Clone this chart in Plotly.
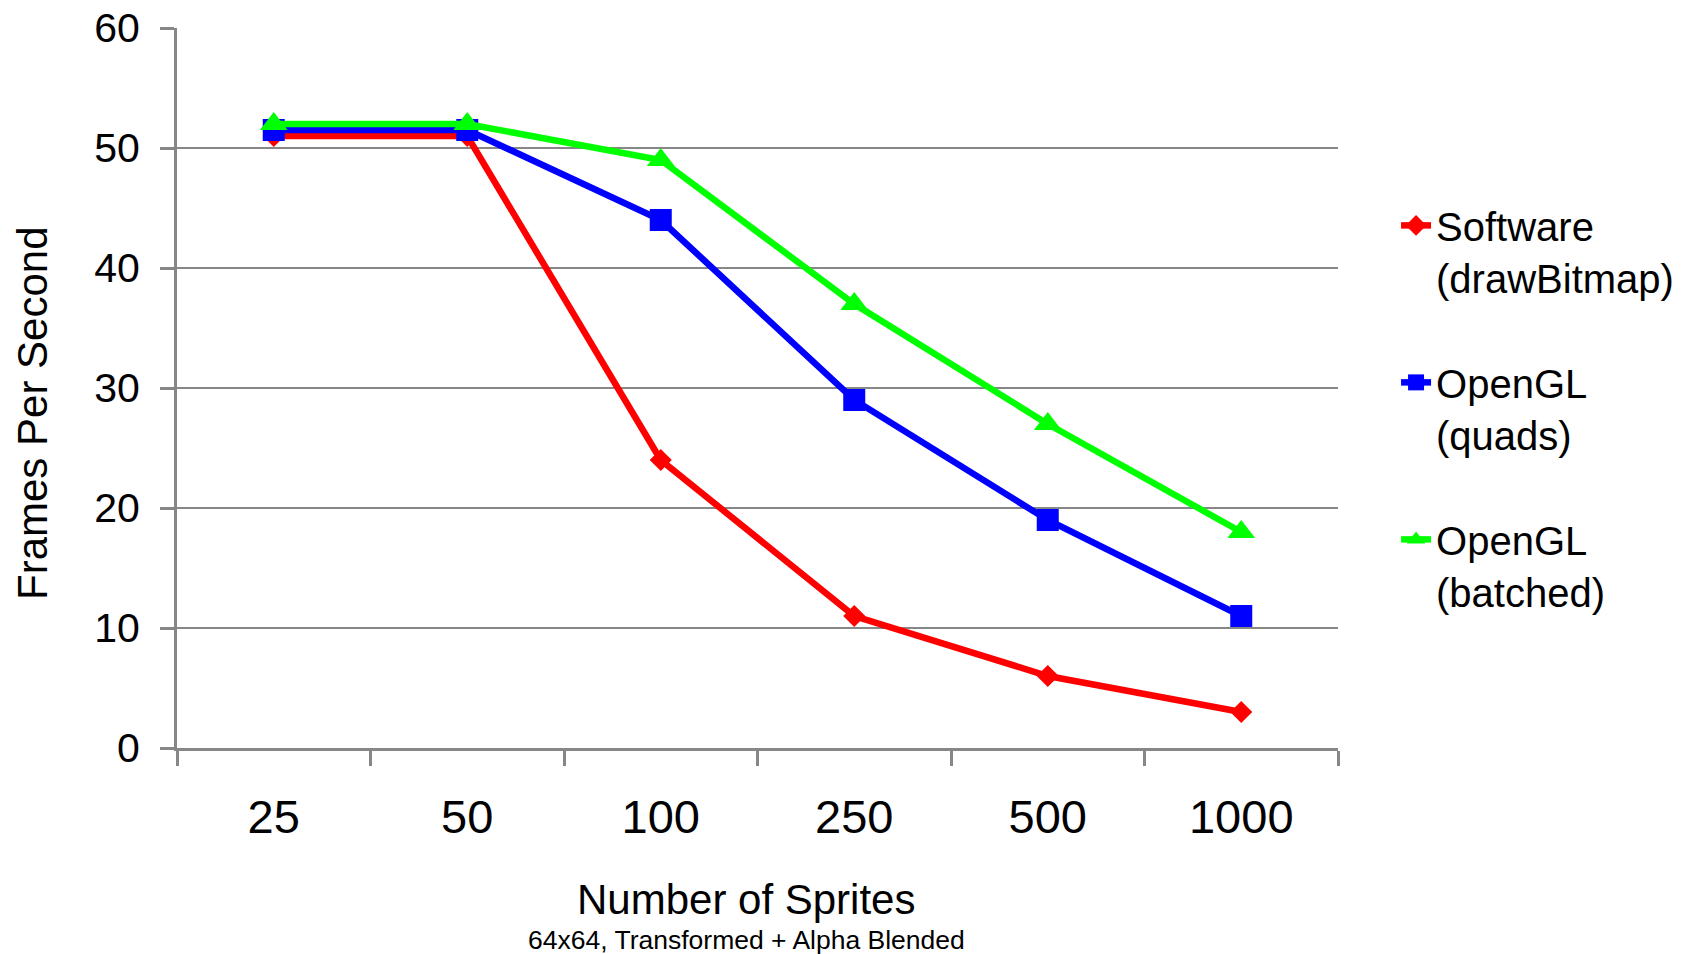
import plotly.graph_objects as go

sprites = ["25", "50", "100", "250", "500", "1000"]
software = [51, 51, 24, 11, 6, 3]
opengl_quads = [51.5, 51.5, 44, 29, 19, 11]
opengl_batched = [52, 52, 49, 37, 27, 18]

y_ticks = [0, 10, 20, 30, 40, 50, 60]

FONT = "Liberation Sans, Arial, sans-serif"
GRID = "#878787"

fig = go.Figure()
series = [
    ("Software<br>(drawBitmap)", software, "#FF0000", "diamond", 17),
    ("OpenGL<br>(quads)", opengl_quads, "#0000FF", "square", 22),
    ("OpenGL<br>(batched)", opengl_batched, "#00FF00", "triangle-up", 24),
]
for i, (name, vals, col, sym, sz) in enumerate(series):
    fig.add_trace(go.Scatter(
        x=sprites, y=vals, name=name, mode="lines+markers",
        line=dict(color=col, width=6.5),
        marker=dict(symbol=sym, size=sz, color=col, line=dict(width=0)),
        legendgroup=f"g{i}",
    ))

fig.update_layout(
    width=1698, height=954,
    margin=dict(l=177, r=360, t=28, b=206, autoexpand=False),
    paper_bgcolor="white", plot_bgcolor="white",
    font=dict(family=FONT, color="black"),
    showlegend=True,
    legend=dict(
        x=1.05, xanchor="left", y=0.771, yanchor="top",
        font=dict(size=40, family=FONT, color="black"),
        valign="top", tracegroupgap=50, bgcolor="rgba(0,0,0,0)",
    ),
    xaxis=dict(
        type="category", categoryorder="array", categoryarray=sprites,
        tickson="boundaries", ticks="outside", ticklen=15, tickwidth=3,
        tickcolor=GRID, showline=True, linecolor=GRID, linewidth=3,
        showgrid=False, tickfont=dict(size=47, family=FONT),
        ticklabelstandoff=26, range=[-0.5, 5.5], automargin=False,
    ),
    yaxis=dict(
        range=[0, 60], tickvals=y_ticks, ticks="outside", ticklen=14,
        tickwidth=3, tickcolor=GRID, showline=True, linecolor=GRID,
        linewidth=3, showgrid=True, gridcolor=GRID, gridwidth=2,
        zeroline=False, tickfont=dict(size=41, family=FONT),
        ticklabelstandoff=12, automargin=False,
    ),
    annotations=[
        dict(text="Frames Per Second", xref="paper", yref="paper",
             x=(32 - 177) / 1161, y=(748 - 413) / 720, xanchor="center",
             yanchor="middle", textangle=-90, showarrow=False,
             font=dict(size=42, family=FONT)),
        dict(text="Number of Sprites", xref="paper", yref="paper",
             x=(746 - 177) / 1161, y=(748 - 899) / 720, xanchor="center",
             yanchor="middle", showarrow=False,
             font=dict(size=42, family=FONT)),
        dict(text="64x64, Transformed + Alpha Blended", xref="paper",
             yref="paper", x=(746 - 177) / 1161, y=(748 - 940) / 720,
             xanchor="center", yanchor="middle", showarrow=False,
             font=dict(size=26.5, family=FONT)),
    ],
)

fig.write_html("out.html")
